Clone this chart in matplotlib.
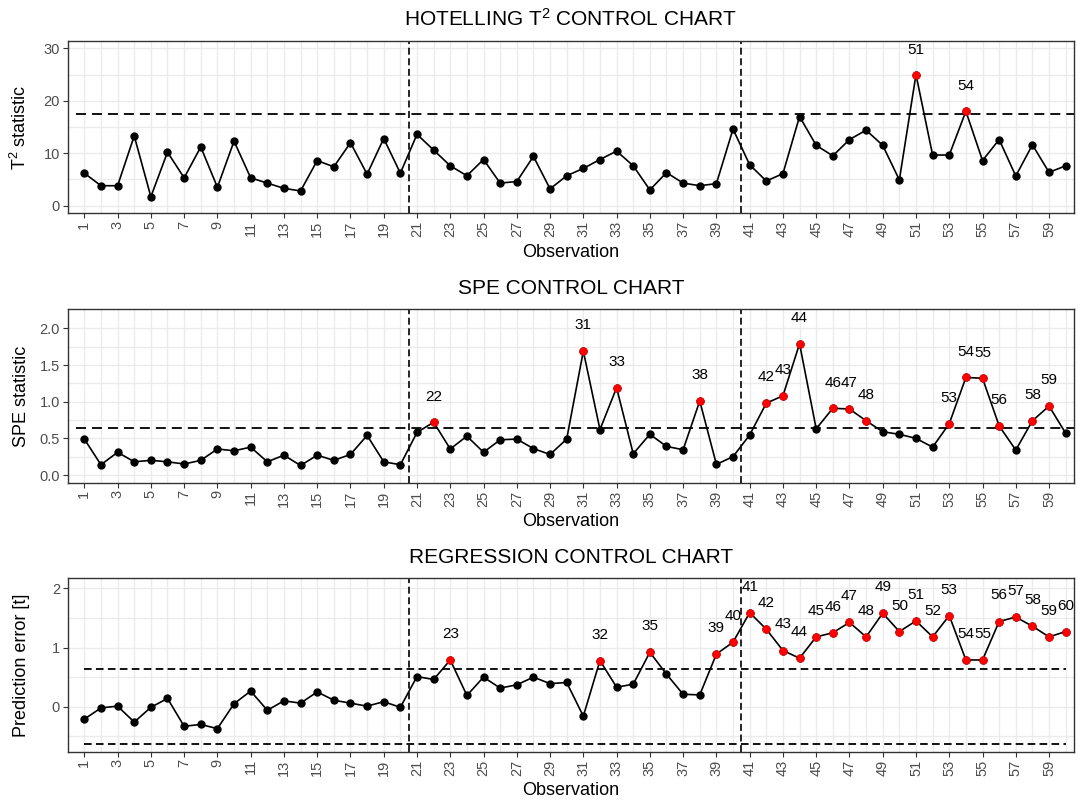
import matplotlib
matplotlib.use("Agg")
import matplotlib.pyplot as plt
import numpy as np

plt.rcParams['font.family'] = ['Liberation Sans', 'DejaVu Sans']
plt.rcParams['mathtext.default'] = 'regular'
plt.rcParams['lines.scale_dashes'] = False

obs = list(range(1, 61))

t2_values = [6.2, 3.8, 3.8, 13.3, 1.7, 10.2, 5.3, 11.2, 3.5, 12.3,
             5.3, 4.3, 3.3, 2.8, 8.6, 7.4, 12.0, 6.0, 12.8, 6.2,
             13.6, 10.6, 7.6, 5.7, 8.8, 4.3, 4.6, 9.4, 3.2, 5.7,
             7.1, 8.8, 10.4, 7.6, 3.0, 6.3, 4.3, 3.8, 4.2, 14.6,
             7.8, 4.7, 6.1, 17.0, 11.5, 9.5, 12.6, 14.4, 11.5, 4.9,
             25.0, 9.65, 9.65, 18.0, 8.6, 12.6, 5.65, 11.6, 6.35, 7.6]
t2_ucl = 17.4

spe_values = [0.49, 0.14, 0.31, 0.18, 0.20, 0.18, 0.15, 0.20, 0.355, 0.33,
              0.38, 0.18, 0.27, 0.13, 0.27, 0.20, 0.28, 0.54, 0.18, 0.14,
              0.58, 0.72, 0.355, 0.53, 0.31, 0.48, 0.49, 0.36, 0.28, 0.49,
              1.69, 0.62, 1.19, 0.29, 0.555, 0.39, 0.345, 1.01, 0.145, 0.25,
              0.545, 0.98, 1.08, 1.79, 0.63, 0.91, 0.90, 0.74, 0.59, 0.555,
              0.50, 0.38, 0.70, 1.33, 1.32, 0.67, 0.34, 0.74, 0.94, 0.57]
spe_ucl = 0.636

reg_values = [-0.21, -0.02, 0.01, -0.26, -0.01, 0.14, -0.33, -0.30, -0.37, 0.05,
              0.265, -0.06, 0.10, 0.06, 0.25, 0.11, 0.06, 0.01, 0.085, -0.01,
              0.51, 0.46, 0.79, 0.19, 0.50, 0.315, 0.37, 0.50, 0.39, 0.41,
              -0.16, 0.78, 0.33, 0.38, 0.92, 0.55, 0.21, 0.20, 0.89, 1.09,
              1.59, 1.31, 0.95, 0.82, 1.18, 1.25, 1.425, 1.18, 1.58, 1.27,
              1.45, 1.18, 1.54, 0.79, 0.79, 1.44, 1.515, 1.36, 1.18, 1.27]
reg_ucl = 0.63
reg_lcl = -0.625

phase_breaks = [20.5, 40.5]
xtick_labels = list(range(1, 61, 2))

W, H = 1078, 800
fig = plt.figure(figsize=(W / 100, H / 100), dpi=100)

left_px, right_px = 67.7, 1074.0
panels_px = [(41.0, 213.3), (309.3, 482.7), (578.3, 751.7)]

grid_col = '#EBEBEB'
tick_col = '#4D4D4D'
border_col = '#333333'


def make_ax(top, bottom):
    return fig.add_axes([left_px / W, 1 - bottom / H,
                         (right_px - left_px) / W, (bottom - top) / H])


def style(ax, yticks, yminor, ylim, ylabel, title, yfmt):
    ax.set_xlim(0, 60.5)
    ax.set_ylim(*ylim)
    ax.set_xticks(xtick_labels)
    ax.set_xticklabels([str(v) for v in xtick_labels], rotation=90,
                       fontsize=10.5, color=tick_col)
    ax.set_xticks(list(range(2, 61, 2)), minor=True)
    ax.set_yticks(yticks)
    ax.set_yticklabels([yfmt(v) for v in yticks], fontsize=10.5, color=tick_col)
    ax.set_yticks(yminor, minor=True)
    ax.tick_params(axis='both', which='major', length=3.5, width=0.8,
                   color=border_col, pad=2)
    ax.tick_params(axis='both', which='minor', length=0)
    ax.grid(True, which='major', color=grid_col, linewidth=1.0, zorder=0)
    ax.grid(True, which='minor', color=grid_col, linewidth=1.0, zorder=0)
    ax.set_axisbelow(True)
    for sp in ax.spines.values():
        sp.set_color(border_col)
        sp.set_linewidth(1.0)
    ax.set_title(title, fontsize=15, pad=11.2)
    ax.annotate('Observation', xy=(0.5, 0), xycoords='axes fraction',
                xytext=(0, -31.5), textcoords='offset points',
                ha='center', va='baseline', fontsize=13)
    ax.annotate(ylabel, xy=(0, 0.5), xycoords='axes fraction',
                xytext=(-30.3, 0), textcoords='offset points',
                ha='center', va='baseline', rotation=90,
                rotation_mode='anchor', fontsize=13)
    for xb in phase_breaks:
        ax.axvline(xb, color='black', linewidth=1.2, dashes=(5.0, 2.6),
                   zorder=2)


def draw_series(ax, vals, ucl, nudge, lcl=None):
    ax.plot(obs, vals, color='black', linewidth=1.2, marker='o',
            markersize=5, zorder=3)
    out_x = [o for o, v in zip(obs, vals) if v > ucl]
    out_y = [v for v in vals if v > ucl]
    ax.plot(out_x, out_y, linestyle='none', marker='o', color='red',
            markersize=5, zorder=4)
    for o, v in zip(out_x, out_y):
        ax.text(o, v + nudge, str(o), ha='center', va='center',
                fontsize=11, zorder=5)


# Panel 1: Hotelling T2
ax1 = make_ax(*panels_px[0])
style(ax1, [0, 10, 20, 30], [5, 15, 25], (-1.46, 31.4), 'T$^{2}$ statistic',
      'HOTELLING T$^{2}$ CONTROL CHART', lambda v: f'{v:d}')
ax1.plot([0.5, 60.5], [t2_ucl, t2_ucl], color='black', linewidth=1.3,
         dashes=(7.2, 4.3), zorder=2)
draw_series(ax1, t2_values, t2_ucl, 4.75)

# Panel 2: SPE
ax2 = make_ax(*panels_px[1])
style(ax2, [0.0, 0.5, 1.0, 1.5, 2.0], [0.25, 0.75, 1.25, 1.75],
      (-0.105, 2.26), 'SPE statistic', 'SPE CONTROL CHART',
      lambda v: f'{v:.1f}')
ax2.plot([0.5, 60.5], [spe_ucl, spe_ucl], color='black', linewidth=1.3,
         dashes=(7.2, 4.3), zorder=2)
draw_series(ax2, spe_values, spe_ucl, 0.35)

# Panel 3: Regression
ax3 = make_ax(*panels_px[2])
style(ax3, [0, 1, 2], [-0.5, 0.5, 1.5], (-0.76, 2.17),
      'Prediction error [t]', 'REGRESSION CONTROL CHART',
      lambda v: f'{v:d}')
ax3.plot([obs[0], obs[-1]], [reg_ucl, reg_ucl], color='black',
         linewidth=1.3, dashes=(5.5, 3.1), zorder=2)
ax3.plot([obs[0], obs[-1]], [reg_lcl, reg_lcl], color='black',
         linewidth=1.3, dashes=(5.5, 3.1), zorder=2)
draw_series(ax3, reg_values, reg_ucl, 0.44)

fig.savefig('out.png', dpi=100)
